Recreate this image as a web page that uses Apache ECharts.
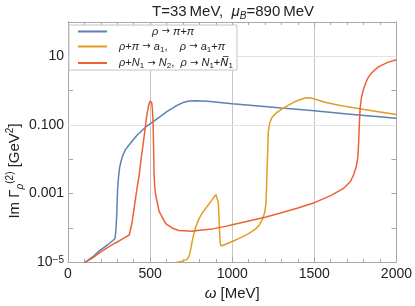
<!DOCTYPE html>
<html><head><meta charset="utf-8">
<script src="https://cdn.jsdelivr.net/npm/echarts@6/dist/echarts.min.js"></script>
<style>html,body{margin:0;padding:0;background:#fff}#c{width:415px;height:306px}</style>
</head><body><div id="c"></div>
<script>
const FONT = '"Liberation Sans", Arial, Helvetica, sans-serif';
const ARROWFONT = '"DejaVu Sans", sans-serif';
const FRAME = '#a8a8a8';

// tick labels (by decade exponent)
const yTickLabels = { '1': '10', '-1': '0.100', '-3': '0.001', '-5': '10{sup|\u22125}' };
const yGridValues = [10, 0.1, 0.001];

// series names
const names = ['pipi', 'a1', 'N'];

// rho -> pi + pi
const blueW = [100, 150, 191, 240, 286, 291, 296, 302, 308, 314, 322, 332, 350, 373, 420, 474, 555, 600, 656, 700, 740, 780, 850, 1000, 1160, 1300, 1500, 1700, 2000];
const blueV = [9.5e-6, 1.41e-5, 2.14e-5, 3.16e-5, 4.79e-5, 7.9e-5, 2.0e-4, 1.26e-3, 3.16e-3, 5.6e-3, 8.3e-3, 0.0123, 0.019, 0.0263, 0.050, 0.087, 0.166, 0.24, 0.355, 0.447, 0.50, 0.51, 0.49, 0.417, 0.355, 0.309, 0.257, 0.209, 0.155];

// rho + pi -> a1
const orangeW = [645, 690, 726, 738, 746, 760, 777, 797, 820, 847, 875, 900, 906, 911, 915, 919, 923, 927, 932, 960, 1000, 1050, 1100, 1141, 1165, 1185, 1198, 1205, 1210, 1215, 1220, 1228, 1241, 1270, 1302, 1340, 1383, 1420, 1453, 1480, 1510, 1565, 1650, 1767, 1880, 2000];
const orangeV = [9.5e-6, 1.05e-5, 1.2e-5, 1.51e-5, 2.24e-5, 5.0e-5, 1.02e-4, 1.82e-4, 2.82e-4, 4.17e-4, 6.3e-4, 9.3e-4, 9.5e-4, 8.3e-4, 5.6e-4, 2.5e-4, 7.9e-5, 3.55e-5, 2.95e-5, 3.3e-5, 3.98e-5, 5.1e-5, 6.8e-5, 9.1e-5, 1.2e-4, 1.82e-4, 2.82e-4, 5.0e-4, 2.0e-3, 0.0126, 0.063, 0.112, 0.162, 0.229, 0.288, 0.372, 0.479, 0.562, 0.617, 0.61, 0.55, 0.457, 0.372, 0.302, 0.245, 0.2];

// rho + N1 -> N2
const redW = [100, 150, 191, 240, 286, 330, 373, 390, 403, 423, 433, 445, 458, 470, 478, 490, 500, 505, 510, 514, 518, 521, 524, 528, 534, 555, 595, 640, 676, 756, 800, 880, 960, 1000, 1100, 1200, 1300, 1400, 1500, 1600, 1676, 1720, 1740, 1755, 1765, 1770, 1774, 1779, 1787, 1800, 1815, 1830, 1850, 1890, 1950, 2000];
const redV = [9.5e-6, 1.32e-5, 1.86e-5, 2.63e-5, 3.55e-5, 4.68e-5, 6.17e-5, 1.41e-4, 3.8e-4, 1.74e-3, 3.3e-3, 0.01, 0.0288, 0.079, 0.166, 0.355, 0.50, 0.525, 0.437, 0.282, 0.126, 0.025, 3.98e-3, 1.58e-3, 8.9e-4, 3.0e-4, 1.32e-4, 9.5e-5, 8.3e-5, 7.9e-5, 8.5e-5, 9.3e-5, 1.1e-4, 1.23e-4, 1.58e-4, 2.04e-4, 2.75e-4, 3.8e-4, 5.4e-4, 8.7e-4, 1.38e-3, 2.24e-3, 3.55e-3, 6.0e-3, 0.0112, 0.0316, 0.1, 0.316, 0.63, 1.12, 1.78, 2.51, 3.31, 4.9, 6.76, 7.94];

const colors = { pipi: '#5E81B5', a1: '#E19C24', N: '#EB6235' };

const legendText = {
  pipi: '{p1| }{i|\u03C1}{a| \u2192 }{i|\u03C0}{n|+}{i|\u03C0}',
  a1: '{p0| }{i|\u03C1}{n|+}{i|\u03C0}{a| \u2192 }{i|a}{s|1}{n|,    }{i|\u03C1}{a| \u2192 }{i|a}{s|1}{n|+}{i|\u03C0}',
  N: '{p0| }{i|\u03C1}{n|+}{i|N}{s|1}{a| \u2192 }{i|N}{s|2}{n|,  }{i|\u03C1}{a| \u2192 }{i|N}{s|1}{n|+}{ob|N\u0305}{s|1}'
};

const zip = (w, v) => w.map((x, k) => [x, v[k]]);

const chart = echarts.init(document.getElementById('c'), null, { renderer: 'canvas' });

const axisCommonX = {
  type: 'value', min: 0, max: 2000, interval: 500,
  axisLine: { show: true, onZero: false, lineStyle: { color: FRAME, width: 1 } },
  axisTick: { show: true, inside: true, length: 5, lineStyle: { color: FRAME } },
  minorTick: { show: true, splitNumber: 5, length: 3, lineStyle: { color: FRAME } }
};
const axisCommonY = {
  type: 'log', logBase: 10, min: 1e-5, max: 100,
  axisLine: { show: true, onZero: false, lineStyle: { color: FRAME, width: 1 } },
  axisTick: { show: true, inside: true, length: 5, lineStyle: { color: FRAME } },
  splitLine: { show: false }
};

chart.setOption({
  animation: false,
  backgroundColor: '#fff',
  title: {
    text: '{n|T=33\u2009MeV,  }{i|\u03BC}{s|B}{n|=890\u2009MeV}',
    left: 152, top: 3, padding: 0,
    textStyle: {
      fontSize: 15, fontFamily: FONT, color: '#222', fontWeight: 'normal',
      rich: {
        n: { fontSize: 15, fontFamily: FONT, color: '#222', lineHeight: 18 },
        i: { fontSize: 15, fontFamily: FONT, color: '#222', fontStyle: 'italic', lineHeight: 18 },
        s: { fontSize: 10, fontFamily: FONT, color: '#222', fontStyle: 'italic', lineHeight: 7, verticalAlign: 'bottom' }
      }
    }
  },
  grid: { left: 68, right: 17, top: 22, bottom: 37 },
  legend: {
    data: names, orient: 'vertical', left: 69, top: 25,
    padding: [1, 4, 0, 9], itemGap: 4, itemWidth: 29, itemHeight: 2,
    icon: 'rect',
    backgroundColor: '#fff', borderColor: '#c4c4c4', borderWidth: 1,
    selectedMode: false,
    formatter: name => legendText[name],
    textStyle: {
      fontSize: 11, fontFamily: FONT, color: '#222',
      rich: {
        n: { fontSize: 11, fontFamily: FONT, color: '#222', lineHeight: 14 },
        a: { fontSize: 10, fontFamily: ARROWFONT, color: '#222', lineHeight: 14 },
        i: { fontSize: 11, fontFamily: FONT, color: '#222', fontStyle: 'italic', lineHeight: 14 },
        ob: { fontSize: 11, fontFamily: ARROWFONT, color: '#222', fontStyle: 'italic', lineHeight: 14 },
        s: { fontSize: 8, fontFamily: FONT, color: '#222', lineHeight: 6, verticalAlign: 'bottom' },
        p0: { width: 7 },
        p1: { width: 40 }
      }
    }
  },
  xAxis: [
    Object.assign({}, axisCommonX, {
      position: 'bottom',
      splitLine: { show: true, lineStyle: { color: '#c6c6c6', width: 1 } },
      axisLabel: { fontSize: 14, fontFamily: FONT, color: '#222', margin: 5, formatter: v => String(v) },
      name: '{i|\u03C9}{n| [MeV]}', nameLocation: 'middle', nameGap: 19,
      nameTextStyle: {
        fontSize: 15, fontFamily: FONT, color: '#222',
        rich: {
          n: { fontSize: 15, fontFamily: FONT, color: '#222' },
          i: { fontSize: 15, fontFamily: FONT, color: '#222', fontStyle: 'italic' }
        }
      }
    }),
    Object.assign({}, axisCommonX, {
      position: 'top', splitLine: { show: false }, axisLabel: { show: false }
    })
  ],
  yAxis: [
    Object.assign({}, axisCommonY, {
      position: 'left',
      axisLabel: {
        fontSize: 14, fontFamily: FONT, color: '#222', margin: 4,
        formatter: v => {
          const e = String(Math.round(Math.log10(v)));
          return yTickLabels[e] !== undefined ? yTickLabels[e] : '';
        },
        rich: {
          sup: { fontSize: 10, fontFamily: FONT, color: '#222', lineHeight: 8, verticalAlign: 'top' }
        }
      }
    }),
    Object.assign({}, axisCommonY, {
      position: 'right', axisLabel: { show: false }
    })
  ],
  graphic: [{
    type: 'text', x: 15, y: 171, rotation: Math.PI / 2,
    style: {
      text: '{n|Im }{n|\u0393}{sb|\u03C1}{sp|(2)}{n| [GeV}{sp|2}{n|]}',
      align: 'center', verticalAlign: 'middle',
      fontSize: 15, fontFamily: FONT, fill: '#222',
      rich: {
        n: { fontSize: 15, fontFamily: FONT, fill: '#222', lineHeight: 20 },
        sb: { fontSize: 10, fontFamily: FONT, fill: '#222', fontStyle: 'italic', lineHeight: 8, verticalAlign: 'bottom' },
        sp: { fontSize: 10, fontFamily: FONT, fill: '#222', lineHeight: 8, verticalAlign: 'top' }
      }
    }
  }],
  series: [
    {
      name: 'pipi', type: 'line', data: zip(blueW, blueV), showSymbol: false, symbol: 'none',
      lineStyle: { color: colors.pipi, width: 1.5 }, itemStyle: { color: colors.pipi }, clip: true, z: 3,
      markLine: {
        silent: true, symbol: ['none', 'none'], label: { show: false }, z: 1,
        lineStyle: { color: '#e3e3e3', type: 'solid', width: 1 },
        emphasis: { disabled: true },
        data: yGridValues.map(v => ({ yAxis: v }))
      }
    },
    {
      name: 'a1', type: 'line', data: zip(orangeW, orangeV), showSymbol: false, symbol: 'none',
      lineStyle: { color: colors.a1, width: 1.5 }, itemStyle: { color: colors.a1 }, clip: true, z: 3
    },
    {
      name: 'N', type: 'line', data: zip(redW, redV), showSymbol: false, symbol: 'none',
      lineStyle: { color: colors.N, width: 1.5 }, itemStyle: { color: colors.N }, clip: true, z: 3
    }
  ]
});
</script>
</body></html>
